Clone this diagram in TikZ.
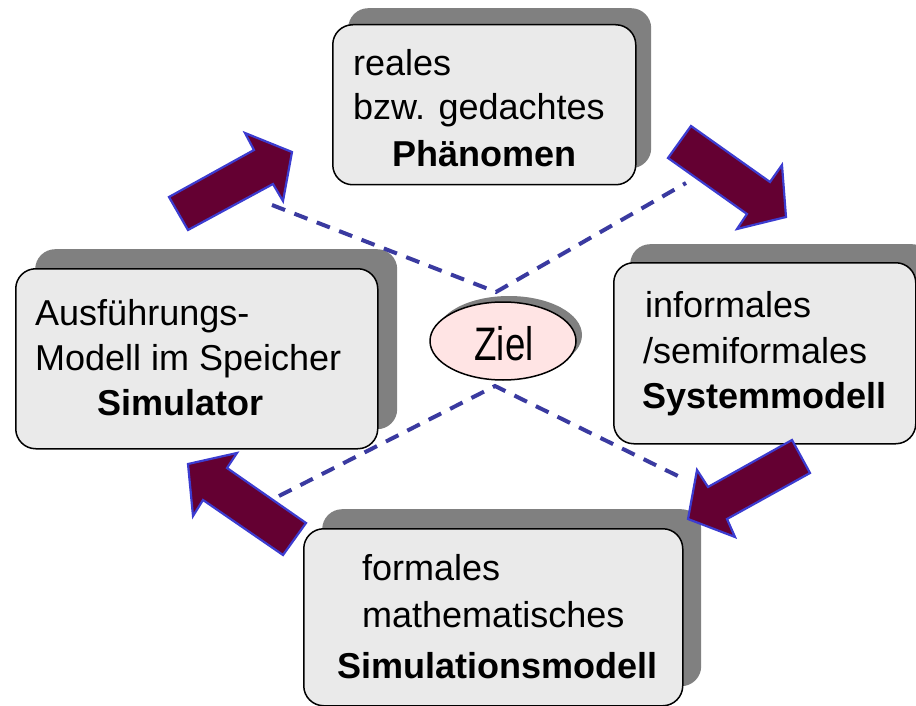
\documentclass[tikz,border=0pt]{standalone}
\usepackage{fontspec}
\setmainfont{Liberation Sans}
\usepackage{graphicx}
\usetikzlibrary{shapes.geometric}
\definecolor{boxfill}{HTML}{EAEAEA}
\definecolor{shadowc}{HTML}{808080}
\definecolor{arrowfill}{HTML}{640032}
\definecolor{arrowline}{HTML}{3C3CD0}
\definecolor{dashc}{HTML}{3A3AA0}
\definecolor{zielfill}{HTML}{FFE4E4}
\tikzset{
  box/.style={draw=black, line width=1.5pt, fill=boxfill, rounded corners=20pt, anchor=north west, inner sep=0pt},
  shadowbox/.style={fill=shadowc, rounded corners=20pt, anchor=north west, inner sep=0pt},
  txt/.style={anchor=base west, inner sep=0pt, font=\fontsize{36}{44}\selectfont},
  btxt/.style={txt, font=\fontsize{36}{44}\selectfont\bfseries},
  blockarrow/.style={fill=arrowfill, draw=arrowline, line width=2.2pt, line join=miter},
  dashline/.style={draw=dashc, line width=4pt, dash pattern=on 14pt off 10pt}
}
\begin{document}
\begin{tikzpicture}[x=1pt,y=-1pt]
\useasboundingbox (0,0) rectangle (916,706);
% shadows
\node[shadowbox, minimum width=303pt, minimum height=160pt] (sTop) at (348,8) {};
\node[shadowbox, minimum width=362pt, minimum height=180pt] (sLeft) at (35,249) {};
\node[shadowbox, minimum width=302pt, minimum height=181pt] (sRight) at (630,244) {};
\node[shadowbox, minimum width=379pt, minimum height=177pt] (sBot) at (322,509) {};
% front boxes
\node[box, minimum width=303pt, minimum height=160pt] (top) at (332,24) {};
\node[box, minimum width=362pt, minimum height=180pt] (left) at (15,268) {};
\node[box, minimum width=302pt, minimum height=181pt] (right) at (613,262) {};
\node[box, minimum width=379pt, minimum height=177pt] (bot) at (303,528) {};
% texts
\node[txt] (t1) at (353,76) {reales};
\node[txt] (t2) at (353,120) {bzw. gedachtes};
\node[btxt] (t3) at (392,167) {Phänomen};
\node[txt] (l1) at (35,325) {Ausführungs-};
\node[txt] (l2) at (35,370) {Modell im Speicher};
\node[btxt] (l3) at (97,415) {Simulator};
\node[txt] (r1) at (645,317) {informales};
\node[txt] (r2) at (643,363) {/semiformales};
\node[btxt] (r3) at (642,408) {Systemmodell};
\node[txt] (b1) at (362,580) {formales};
\node[txt] (b2) at (362,627) {mathematisches};
\node[btxt] (b3) at (337,678) {Simulationsmodell};
% dashed lines
\coordinate (dTL) at (272,205);
\coordinate (dTR) at (686,183);
\coordinate (dBL) at (279,496);
\coordinate (dBR) at (686,480);
\coordinate (vTop) at (496,292);
\coordinate (vBot) at (495,386);
\draw[dashline] (dTL) -- (vTop) -- (dTR);
\draw[dashline] (dBL) -- (vBot) -- (dBR);
% Ziel
\node[ellipse, fill=shadowc, minimum width=146pt, minimum height=78pt, inner sep=0pt] (zielS) at (509,335) {};
\node[ellipse, draw=black, line width=1.5pt, fill=zielfill, minimum width=146pt, minimum height=78pt, inner sep=0pt] (ziel) at (503,341) {};
\node[anchor=base, inner sep=0pt] (zieltxt) at (504,360) {\scalebox{0.78}[1]{\fontsize{47}{47}\selectfont Ziel}};
% block arrows
\draw[blockarrow] (169,197) -- (254,150) -- (245,133) -- (292,152) -- (283,201) -- (273,184) -- (188,230) -- cycle;
\draw[blockarrow] (691,126) -- (770,182) -- (782,165) -- (786,217) -- (737,229) -- (747,214) -- (668,158) -- cycle;
\draw[blockarrow] (792,440) -- (708,487) -- (697,470) -- (688,519) -- (735,537) -- (727,519) -- (810,473) -- cycle;
\draw[blockarrow] (306,523) -- (227,468) -- (237,453) -- (188,464) -- (193,516) -- (203,500) -- (283,555) -- cycle;
\end{tikzpicture}
\end{document}
